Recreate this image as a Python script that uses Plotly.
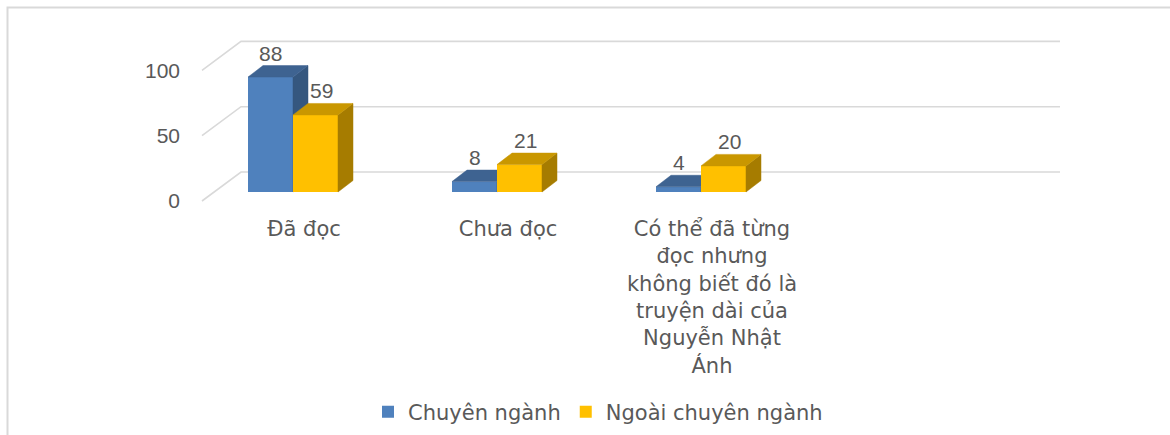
import plotly.graph_objects as go

# ---------------- data ----------------
categories = [
    "Đã đọc",
    "Chưa đọc",
    "Có thể đã từng<br>đọc nhưng<br>không biết đó là<br>truyện dài của<br>Nguyễn Nhật<br>Ánh",
]
series_names = ["Chuyên ngành", "Ngoài chuyên ngành"]
chuyen_nganh = [88, 8, 4]
ngoai_chuyen_nganh = [59, 21, 20]
y_ticks = [0, 50, 100]

# ---------------- styling / geometry (pixels) ----------------
W, H = 1170, 435
L, R, T, B = 195, 1065, 30, 205          # plot area edges in px
PX_CAT = 204.0                            # px per category
PX_VAL = 1.306                            # px per value unit
X0_PX = 293.0                             # px of first group centre (bar plane)
Y0_PX = 192.0                             # px of value 0 (bar plane)
BAR_PX = 45.0
DEPTH_PX = (15.0, 11.5)                   # bar depth (right, up)
BACK_PX = (27.0, 20.0)                    # bar plane -> back wall
FRONT_PX = (-12.0, -9.0)                  # bar plane -> front edge
WALL_LEFT_PX = 214.0
WALL_RIGHT_PX = 1060.0
LABEL_SHIFT_PX = [0, 6]

FONT = "Liberation Sans, Arial, sans-serif"
FONT_TXT = "DejaVu Sans, Liberation Sans, sans-serif"
TXT = "#595959"
FS_NUM = 21
FS_CAT = 21
FS_LEG = 21
GRID = "#D9D9D9"

colors = {
    "front": ["#4F81BD", "#FFC000"],
    "top": ["#3E6391", "#C99700"],
    "side": ["#35577F", "#A67C00"],
}


def xd(px):
    return (px - X0_PX) / PX_CAT


def ddx(px):
    return px / PX_CAT


def ddy(px):
    return px / PX_VAL


bw = BAR_PX / PX_CAT
dxd, dyd = ddx(DEPTH_PX[0]), ddy(DEPTH_PX[1])

fig = go.Figure()

# ---- walls / gridlines ----
gx, gy = [], []
bx, by = ddx(BACK_PX[0]), ddy(BACK_PX[1])
fx, fy = ddx(FRONT_PX[0]), ddy(FRONT_PX[1])
wl = xd(WALL_LEFT_PX)
wr = xd(WALL_RIGHT_PX)
for v in y_ticks:
    gx += [wl + fx, wl + bx, wr, None]
    gy += [v + fy, v + by, v + by, None]
fig.add_trace(go.Scatter(x=gx, y=gy, mode="lines", line=dict(color=GRID, width=1.6),
                         hoverinfo="skip", showlegend=False, zorder=-1))

# ---- bars ----
series = [chuyen_nganh, ngoai_chuyen_nganh]
offsets = [-bw, 0.0]
idx = list(range(len(categories)))
for s, (name, vals) in enumerate(zip(series_names, series)):
    z = s
    fig.add_trace(go.Bar(x=idx, y=vals, name=name, width=bw, offset=offsets[s],
                         marker=dict(color=colors["front"][s], line=dict(width=0)),
                         hoverinfo="skip", zorder=z))
    tx, ty, sx, sy = [], [], [], []
    for i, v in zip(idx, vals):
        x0 = i + offsets[s]
        x1 = x0 + bw
        tx += [x0, x1, x1 + dxd, x0 + dxd, x0, None]
        ty += [v, v, v + dyd, v + dyd, v, None]
        sx += [x1, x1 + dxd, x1 + dxd, x1, x1, None]
        sy += [0, dyd, v + dyd, v, 0, None]
    for xs, ys, key in ((sx, sy, "side"), (tx, ty, "top")):
        fig.add_trace(go.Scatter(x=xs, y=ys, fill="toself", mode="lines",
                                 fillcolor=colors[key][s],
                                 line=dict(color=colors[key][s], width=0.5),
                                 hoverinfo="skip", showlegend=False, zorder=z))
    for i, v in zip(idx, vals):
        fig.add_annotation(x=i + offsets[s] + bw / 2, y=v, text=str(v), showarrow=False,
                           xshift=LABEL_SHIFT_PX[s],
                           yshift=DEPTH_PX[1] + 12.5, yanchor="middle", xanchor="center",
                           font=dict(family=FONT, size=FS_NUM, color=TXT))

# invisible trace to carry y-axis tick labels (front wall)
fig.add_trace(go.Scatter(x=[xd(L)] * len(y_ticks), y=y_ticks, yaxis="y2", mode="none",
                         hoverinfo="skip", showlegend=False))

# frame
fig.add_shape(type="rect", xref="paper", yref="paper",
              x0=(7.5 - L) / (R - L), x1=(W + 20 - L) / (R - L),
              y0=(B - (H + 20)) / (B - T), y1=(B - 7.5) / (B - T),
              line=dict(color=GRID, width=2), fillcolor="rgba(0,0,0,0)", layer="below")

fig.update_layout(
    width=W, height=H,
    margin=dict(l=L, r=W - R, t=T, b=H - B, autoexpand=False),
    paper_bgcolor="white", plot_bgcolor="white",
    barmode="overlay",
    font=dict(family=FONT_TXT, size=FS_CAT, color=TXT),
    xaxis=dict(range=[xd(L), xd(R)], showgrid=False, zeroline=False, showline=False,
               automargin=False,
               ticks="", tickvals=[i + ddx(11) for i in idx], ticktext=categories,
               tickfont=dict(family=FONT_TXT, size=FS_CAT, color=TXT), ticklabelstandoff=9),
    yaxis=dict(range=[(Y0_PX - B) / PX_VAL, (Y0_PX - T) / PX_VAL], visible=False,
               automargin=False),
    yaxis2=dict(range=[(Y0_PX + 9 - B) / PX_VAL, (Y0_PX + 9 - T) / PX_VAL],
                overlaying="y", side="left", showgrid=False, zeroline=False, showline=False,
                automargin=False,
                ticks="", tickvals=y_ticks, tickfont=dict(family=FONT, size=FS_NUM, color=TXT),
                ticklabelstandoff=14),
    legend=dict(orientation="h", xref="container", yref="container",
                x=598 / W, xanchor="center", y=(H - 412) / H, yanchor="middle",
                font=dict(family=FONT_TXT, size=FS_LEG, color=TXT), itemclick=False,
                itemdoubleclick=False),
    showlegend=True,
)

fig.write_html("out.html", config={"displayModeBar": False},
               post_script="document.body.style.margin='0px';")
